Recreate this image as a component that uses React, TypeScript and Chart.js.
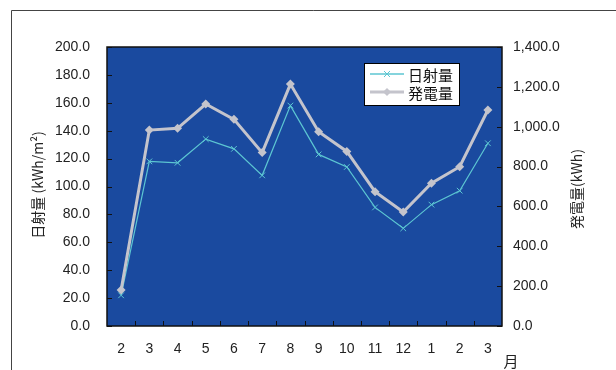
import React, { useEffect, useRef } from "react";
import { Chart, registerables } from "chart.js";
Chart.register(...registerables);

const months = ["2", "3", "4", "5", "6", "7", "8", "9", "10", "11", "12", "1", "2", "3"];
const solarRadiation = [22, 118, 117, 134, 127, 108, 158, 123, 114, 85, 70, 87, 97, 131];
const generation = [181, 983, 992, 1114, 1037, 870, 1214, 975, 876, 674, 572, 716, 799, 1084];
const leftTicks = [0, 20, 40, 60, 80, 100, 120, 140, 160, 180, 200];
const rightTicks = [0, 200, 400, 600, 800, 1000, 1200, 1400];
const leftTitle = "日射量 (kWh/m²)";
const rightTitle = "発電量(kWh)";
const seriesNames = ["日射量", "発電量"];
const xUnit = "月";

const BLUE = "#1a4a9f";
const CYAN = "#5cc6d2";
const GRAY = "#c4c4cc";
const JP = "'Noto Sans CJK JP', sans-serif";
const LAT = "'Liberation Sans', Arial, sans-serif";

const decor = {
  id: "decor",
  beforeDraw(chart: any) {
    const { ctx, chartArea: a } = chart;
    ctx.save();
    ctx.fillStyle = "#ffffff";
    ctx.fillRect(0, 0, chart.width, chart.height);
    ctx.fillStyle = BLUE;
    ctx.fillRect(a.left, a.top, a.right - a.left, a.bottom - a.top);
    // outer frame
    ctx.strokeStyle = "#444";
    ctx.lineWidth = 1;
    ctx.beginPath();
    ctx.moveTo(11.5, chart.height);
    ctx.lineTo(11.5, 10.5);
    ctx.lineTo(chart.width, 10.5);
    ctx.stroke();
    ctx.restore();
  },
  afterDatasetsDraw(chart: any) {
    const { ctx, chartArea: a, scales } = chart;
    ctx.save();
    // ticks inside
    ctx.strokeStyle = "#111";
    ctx.lineWidth = 1;
    ctx.beginPath();
    leftTicks.forEach((v) => {
      const y = Math.round(scales.y.getPixelForValue(v)) + 0.5;
      ctx.moveTo(a.left, y);
      ctx.lineTo(a.left + 5, y);
    });
    rightTicks.forEach((v) => {
      const y = Math.round(scales.y2.getPixelForValue(v)) + 0.5;
      ctx.moveTo(a.right, y);
      ctx.lineTo(a.right - 5, y);
    });
    for (let i = 1; i < months.length; i++) {
      const x = Math.round((scales.x.getPixelForValue(i - 1) + scales.x.getPixelForValue(i)) / 2) + 0.5;
      ctx.moveTo(x, a.bottom);
      ctx.lineTo(x, a.bottom - 5);
    }
    ctx.stroke();
    // border
    ctx.strokeStyle = "#111";
    ctx.lineWidth = 1.5;
    ctx.strokeRect(a.left, a.top, a.right - a.left, a.bottom - a.top);

    // axis titles
    ctx.fillStyle = "#222";
    ctx.font = `14px ${JP}`;
    ctx.textAlign = "center";
    ctx.textBaseline = "middle";
    ctx.save();
    ctx.translate(38, 185);
    ctx.rotate(-Math.PI / 2);
    ctx.fillText(leftTitle, 0, 0);
    ctx.restore();
    ctx.save();
    ctx.translate(577, 189);
    ctx.rotate(-Math.PI / 2);
    ctx.fillText(rightTitle, 0, 0);
    ctx.restore();
    ctx.font = `15px ${JP}`;
    ctx.fillText(xUnit, 511, 361);

    // legend
    const lx = 364, ly = 63, lw = 95, lh = 42;
    ctx.fillStyle = "#fff";
    ctx.fillRect(lx, ly, lw, lh);
    ctx.strokeStyle = "#000";
    ctx.lineWidth = 1;
    ctx.strokeRect(lx + 0.5, ly + 0.5, lw, lh);
    const rows = [
      { y: 74, color: CYAN, w: 1.5 },
      { y: 92, color: GRAY, w: 3 },
    ];
    rows.forEach((r, i) => {
      ctx.strokeStyle = r.color;
      ctx.lineWidth = r.w;
      ctx.beginPath();
      ctx.moveTo(370, r.y);
      ctx.lineTo(404, r.y);
      ctx.stroke();
      if (i === 0) {
        ctx.lineWidth = 1;
        ctx.beginPath();
        ctx.moveTo(384, r.y - 3);
        ctx.lineTo(390, r.y + 3);
        ctx.moveTo(390, r.y - 3);
        ctx.lineTo(384, r.y + 3);
        ctx.stroke();
      } else {
        ctx.fillStyle = r.color;
        ctx.beginPath();
        ctx.moveTo(387, r.y - 4);
        ctx.lineTo(391, r.y);
        ctx.lineTo(387, r.y + 4);
        ctx.lineTo(383, r.y);
        ctx.closePath();
        ctx.fill();
      }
      ctx.fillStyle = "#111";
      ctx.font = `15px ${JP}`;
      ctx.textAlign = "left";
      ctx.fillText(seriesNames[i], 408, r.y + 1);
    });
    ctx.restore();
  },
};

export default function App() {
  const ref = useRef<HTMLCanvasElement>(null);
  useEffect(() => {
    if (!ref.current) return;
    const chart = new Chart(ref.current, {
      type: "line",
      data: {
        labels: months,
        datasets: [
          {
            label: seriesNames[1],
            data: generation,
            yAxisID: "y2",
            borderColor: GRAY,
            backgroundColor: GRAY,
            borderWidth: 3,
            pointStyle: "rectRot",
            pointRadius: 4.5,
            pointBorderWidth: 0,
            tension: 0,
          },
          {
            label: seriesNames[0],
            data: solarRadiation,
            yAxisID: "y",
            borderColor: CYAN,
            backgroundColor: CYAN,
            borderWidth: 1.2,
            pointStyle: "crossRot",
            pointRadius: 4,
            pointBorderWidth: 1,
            tension: 0,
          },
        ],
      },
      options: {
        responsive: false,
        animation: false,
        layout: { padding: { top: 47, left: 0, right: 0, bottom: 0 } },
        plugins: { legend: { display: false }, tooltip: { enabled: false } },
        scales: {
          x: {
            type: "category",
            offset: true,
            grid: { display: false, drawTicks: false },
            border: { display: false },
            afterFit: (s: any) => { s.height = 44; },
            ticks: { color: "#222", font: { family: LAT, size: 14 }, padding: 15, maxRotation: 0, autoSkip: false },
          },
          y: {
            position: "left",
            min: 0,
            max: 200,
            afterBuildTicks: (s: any) => { s.ticks = leftTicks.map((v) => ({ value: v })); },
            afterFit: (s: any) => { s.width = 107; },
            grid: { display: false, drawTicks: false },
            border: { display: false },
            ticks: {
              color: "#222",
              font: { family: LAT, size: 14 },
              padding: 17,
              callback: (v: any) => Number(v).toFixed(1),
            },
          },
          y2: {
            position: "right",
            min: 0,
            max: 1400,
            afterBuildTicks: (s: any) => { s.ticks = rightTicks.map((v) => ({ value: v })); },
            afterFit: (s: any) => { s.width = 114; },
            grid: { display: false, drawTicks: false },
            border: { display: false },
            ticks: {
              color: "#222",
              font: { family: LAT, size: 14 },
              padding: 11,
              callback: (v: any) =>
                Number(v).toLocaleString("en-US", { minimumFractionDigits: 1, maximumFractionDigits: 1 }),
            },
          },
        },
      },
      plugins: [decor],
    } as any);
    return () => chart.destroy();
  }, []);
  return (
    <div style={{ position: "fixed", left: 0, top: 0, width: 616, height: 370 }}>
      <canvas ref={ref} width={616} height={370} />
    </div>
  );
}
